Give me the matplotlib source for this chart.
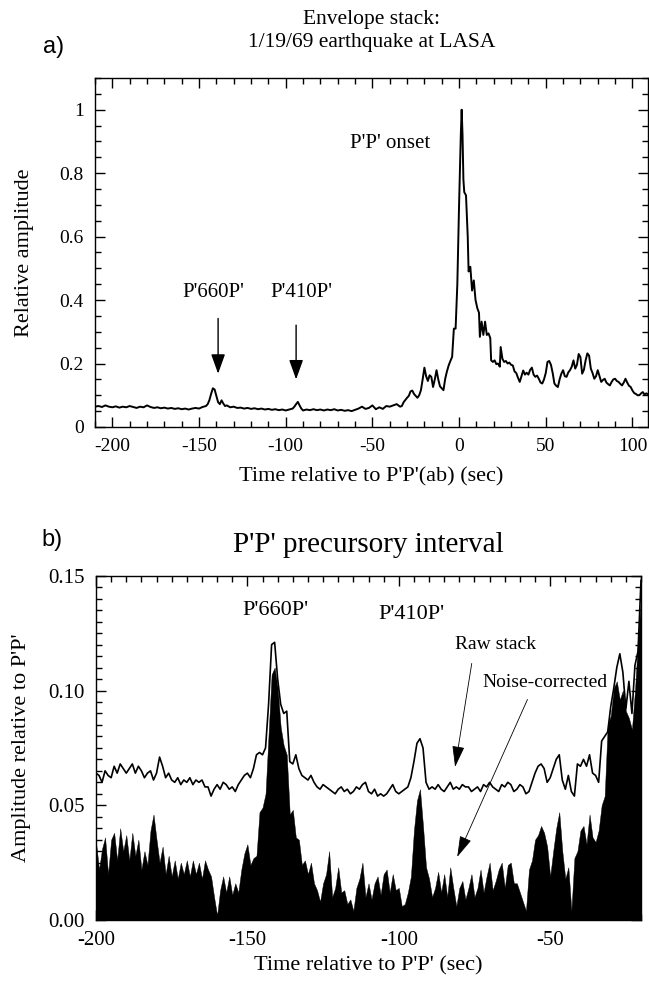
import numpy as np
import matplotlib
matplotlib.use("Agg")
import matplotlib.pyplot as plt
from matplotlib.ticker import MultipleLocator, FixedLocator, FixedFormatter

plt.rcParams["font.family"] = ["Liberation Serif", "DejaVu Serif"]
plt.rcParams["axes.unicode_minus"] = False

# --- a) envelope stack, time (s) and relative amplitude
t_env = [-210, -208, -206, -204, -202, -200, -198, -196, -194, -192, -190, -188, -186, -184,
         -182, -180, -178, -176, -174, -172, -170, -168, -166, -164, -162, -160, -158, -156,
         -154, -152, -150, -148, -146, -145, -144, -143, -142, -141, -140, -139, -138, -137,
         -136, -135, -134, -132, -130, -128, -126, -124, -122, -120, -118, -116, -114, -112,
         -110, -108, -106, -104, -102, -100, -98, -96, -95, -94, -93, -92, -91, -90, -88, -86,
         -84, -82, -80, -78, -76, -74, -72, -70, -68, -66, -64, -62, -60, -58, -56, -54, -52,
         -50, -48, -46, -44, -42, -40, -38, -36, -34, -33, -32, -31, -30, -29, -28, -27, -26,
         -25, -24, -23, -22, -21, -20, -19, -18, -17, -16, -15, -14, -13, -12, -11, -10, -9,
         -8, -7, -6, -5, -4, -3, -2, -1, 0, 1, 1.5, 2, 2.5, 3, 4, 5, 5.5, 6.5, 7.5, 8.5, 9.5,
         10.5, 11.5, 12, 13, 14, 15, 16, 17, 18, 18.5, 19.5, 20.5, 21.5, 22.5, 23.5, 24, 25, 26,
         27, 28, 29, 30, 31, 32, 33, 34, 35, 36, 37, 38, 39, 40, 41, 42, 43, 44, 45, 46, 47, 48,
         49, 50, 51, 52, 53, 54, 55, 56, 57, 58, 59, 60, 61, 62, 63, 64, 65, 66, 67, 68, 69, 70,
         71, 72, 73, 74, 75, 76, 77, 78, 79, 80, 81, 82, 83, 84, 85, 86, 87, 88, 89, 90, 91, 92,
         93, 94, 95, 96, 97, 98, 99, 100, 101, 102, 103, 104, 105, 106, 107, 108, 109]
a_env = [0.064, 0.066, 0.063, 0.068, 0.064, 0.062, 0.065, 0.061, 0.064, 0.062, 0.066, 0.063, 0.060, 0.064,
         0.062, 0.068, 0.063, 0.060, 0.062, 0.059, 0.061, 0.058, 0.060, 0.057, 0.059, 0.056, 0.058, 0.055,
         0.058, 0.060, 0.058, 0.063, 0.066, 0.072, 0.085, 0.105, 0.122, 0.118, 0.098, 0.078, 0.072, 0.084,
         0.074, 0.066, 0.068, 0.062, 0.064, 0.060, 0.061, 0.058, 0.060, 0.057, 0.059, 0.056, 0.058, 0.055,
         0.057, 0.054, 0.056, 0.053, 0.055, 0.052, 0.055, 0.058, 0.064, 0.072, 0.079, 0.068, 0.058, 0.052, 0.055, 0.053,
         0.056, 0.053, 0.055, 0.052, 0.055, 0.053, 0.056, 0.052, 0.054, 0.051, 0.053, 0.050, 0.054, 0.058, 0.064, 0.057, 0.060,
         0.068, 0.056, 0.062, 0.057, 0.066, 0.064, 0.068, 0.072, 0.064, 0.066, 0.078, 0.085, 0.092, 0.098, 0.112, 0.115, 0.104,
         0.098, 0.092, 0.100, 0.116, 0.150, 0.187, 0.160, 0.145, 0.163, 0.158, 0.126, 0.150, 0.179, 0.150, 0.128, 0.122, 0.116,
         0.152, 0.175, 0.194, 0.208, 0.221, 0.310, 0.310, 0.450, 0.700, 0.920, 1.000, 0.920, 0.780, 0.740, 0.730, 0.600, 0.490, 0.505, 0.430, 0.462, 0.400,
         0.375, 0.360, 0.284, 0.332, 0.290, 0.332, 0.290, 0.295, 0.280, 0.210, 0.205, 0.210, 0.198, 0.200, 0.190, 0.252, 0.215, 0.205,
         0.208, 0.200, 0.203, 0.196, 0.194, 0.175, 0.170, 0.155, 0.142, 0.160, 0.178, 0.165, 0.171, 0.165, 0.180, 0.187, 0.165, 0.158, 0.162, 0.152, 0.140, 0.137,
         0.150, 0.170, 0.205, 0.208, 0.196, 0.170, 0.137, 0.130, 0.126, 0.150, 0.168, 0.179, 0.160, 0.158, 0.172, 0.179, 0.190, 0.210, 0.184, 0.196, 0.230, 0.220,
         0.168, 0.180, 0.210, 0.232, 0.225, 0.184, 0.170, 0.152, 0.160, 0.179, 0.160, 0.142, 0.148, 0.152, 0.140, 0.135, 0.131, 0.142, 0.150, 0.152, 0.145, 0.142,
         0.136, 0.131, 0.140, 0.152, 0.140, 0.130, 0.126, 0.115, 0.107, 0.104, 0.100, 0.100, 0.106, 0.110, 0.102, 0.106, 0.103]

# --- b) precursory interval, 1 s samples from -200 to -20
t_pre = list(range(-200, -19))
raw_stack = [0.064, 0.063, 0.060, 0.065, 0.063, 0.062, 0.067, 0.064, 0.068, 0.066,
             0.064, 0.066, 0.068, 0.064, 0.067, 0.065, 0.062, 0.064, 0.065, 0.061,
             0.064, 0.071, 0.067, 0.062, 0.064, 0.061, 0.060, 0.062, 0.059, 0.061,
             0.060, 0.062, 0.059, 0.061, 0.060, 0.061, 0.058, 0.058, 0.054, 0.057,
             0.059, 0.057, 0.060, 0.059, 0.057, 0.058, 0.056, 0.059, 0.061, 0.063,
             0.064, 0.062, 0.066, 0.072, 0.073, 0.072, 0.075, 0.094, 0.120, 0.121,
             0.105, 0.094, 0.090, 0.091, 0.069, 0.068, 0.072, 0.066, 0.063, 0.062,
             0.061, 0.063, 0.060, 0.058, 0.057, 0.059, 0.058, 0.057, 0.056, 0.055,
             0.057, 0.058, 0.056, 0.057, 0.055, 0.056, 0.058, 0.057, 0.059, 0.060,
             0.056, 0.055, 0.057, 0.054, 0.055, 0.054, 0.055, 0.057, 0.059, 0.056,
             0.055, 0.056, 0.057, 0.058, 0.062, 0.069, 0.077, 0.079, 0.075, 0.060,
             0.057, 0.058, 0.057, 0.059, 0.057, 0.056, 0.058, 0.060, 0.057, 0.058,
             0.057, 0.059, 0.058, 0.058, 0.056, 0.057, 0.058, 0.056, 0.059, 0.058,
             0.060, 0.058, 0.057, 0.056, 0.059, 0.058, 0.060, 0.059, 0.056, 0.057,
             0.059, 0.058, 0.055, 0.056, 0.060, 0.064, 0.067, 0.068, 0.066, 0.060,
             0.062, 0.066, 0.070, 0.072, 0.061, 0.057, 0.063, 0.056, 0.054, 0.068,
             0.067, 0.070, 0.067, 0.072, 0.064, 0.063, 0.060, 0.078, 0.080, 0.082,
             0.093, 0.101, 0.110, 0.116, 0.108, 0.092, 0.104, 0.090, 0.111, 0.117,
             0.148]
noise_corr = [0.034, 0.022, 0.031, 0.036, 0.020, 0.035, 0.038, 0.026, 0.040, 0.030,
              0.037, 0.026, 0.038, 0.028, 0.035, 0.022, 0.030, 0.024, 0.039, 0.046,
              0.035, 0.025, 0.032, 0.020, 0.028, 0.019, 0.026, 0.018, 0.025, 0.020,
              0.026, 0.019, 0.026, 0.020, 0.025, 0.018, 0.026, 0.022, 0.019, 0.010,
              0.002, 0.013, 0.019, 0.012, 0.019, 0.011, 0.016, 0.012, 0.022, 0.029,
              0.033, 0.024, 0.027, 0.028, 0.047, 0.049, 0.055, 0.081, 0.107, 0.110,
              0.101, 0.084, 0.076, 0.072, 0.046, 0.048, 0.036, 0.035, 0.024, 0.026,
              0.020, 0.025, 0.016, 0.013, 0.008, 0.016, 0.020, 0.030, 0.010, 0.014,
              0.023, 0.012, 0.013, 0.007, 0.009, 0.004, 0.014, 0.018, 0.025, 0.010,
              0.016, 0.009, 0.016, 0.019, 0.011, 0.020, 0.022, 0.012, 0.020, 0.013,
              0.014, 0.006, 0.007, 0.012, 0.019, 0.039, 0.052, 0.057, 0.041, 0.023,
              0.018, 0.010, 0.014, 0.021, 0.012, 0.020, 0.010, 0.023, 0.014, 0.006,
              0.014, 0.017, 0.009, 0.014, 0.020, 0.010, 0.014, 0.022, 0.012, 0.019,
              0.025, 0.013, 0.017, 0.022, 0.025, 0.014, 0.024, 0.025, 0.016, 0.016,
              0.012, 0.008, 0.004, 0.022, 0.026, 0.035, 0.037, 0.041, 0.038, 0.032,
              0.019, 0.030, 0.040, 0.047, 0.030, 0.018, 0.023, 0.004, 0.027, 0.030,
              0.039, 0.041, 0.033, 0.046, 0.036, 0.034, 0.039, 0.050, 0.054, 0.085,
              0.089, 0.101, 0.104, 0.096, 0.100, 0.091, 0.088, 0.083, 0.100, 0.122,
              0.140]


def style_axes(ax, size):
    ax.tick_params(which="both", direction="in", top=True, right=True, width=1.0,
                   labelsize=size, pad=8)
    ax.tick_params(which="major", length=7)
    ax.tick_params(which="minor", length=4)
    for s in ax.spines.values():
        s.set_linewidth(1.0)


fig = plt.figure(figsize=(6.49, 9.82), dpi=100)

# ---------------- panel a
ax1 = fig.add_axes([0.1464, 0.5652, 0.8521, 0.3554])
ax1.plot(t_env, a_env, color="black", lw=1.4)
ax1.set_xlim(-210, 109)
ax1.set_ylim(0, 1.1)
ax1.xaxis.set_major_locator(MultipleLocator(50))
ax1.xaxis.set_minor_locator(MultipleLocator(10))
ax1.yaxis.set_major_locator(FixedLocator([0, 0.2, 0.4, 0.6, 0.8, 1.0]))
ax1.yaxis.set_major_formatter(FixedFormatter(["0", "0.2", "0.4", "0.6", "0.8", "1"]))
ax1.yaxis.set_minor_locator(MultipleLocator(0.05))
style_axes(ax1, 14)
ax1.set_xlabel("Time relative to P'P'(ab) (sec)", fontsize=16)
ax1.set_ylabel("Relative amplitude", fontsize=16)
ax1.xaxis.set_label_coords(0.5, -0.143)
ax1.xaxis.label.set_va("center")
ax1.yaxis.set_label_coords(-0.127, 0.5)
ax1.yaxis.label.set_va("center")

head1 = dict(arrowstyle="-|>,head_length=1.0,head_width=0.36", mutation_scale=12,
             color="black", lw=1.0, shrinkA=0, shrinkB=0)
ax1.annotate("", xy=(-139, 0.168), xytext=(-139, 0.342), arrowprops=head1)
ax1.annotate("", xy=(-94, 0.15), xytext=(-94, 0.321), arrowprops=head1)
ax1.text(-142, 0.425, "P'660P'", ha="center", va="center", fontsize=15)
ax1.text(-91, 0.425, "P'410P'", ha="center", va="center", fontsize=15)
ax1.text(-40, 0.893, "P'P' onset", ha="center", va="center", fontsize=15)

fig.text(0.5724, 1 - 31 / 982, "Envelope stack:\n1/19/69 earthquake at LASA", ha="center",
         va="center", fontsize=15.5, linespacing=1.3)
fig.text(0.082, 1 - 47 / 982, "a)", ha="center", va="center", fontsize=17,
         family=["Liberation Sans", "DejaVu Sans"])

# ---------------- panel b
ax2 = fig.add_axes([0.1479, 0.0631, 0.8398, 0.3506])
ax2.fill_between(t_pre, 0, noise_corr, color="black", lw=0.3)
ax2.plot(t_pre, raw_stack, color="black", lw=1.2)
ax2.set_xlim(-200, -20)
ax2.set_ylim(0, 0.15)
ax2.xaxis.set_major_locator(MultipleLocator(50))
ax2.xaxis.set_minor_locator(MultipleLocator(5))
ax2.yaxis.set_major_locator(FixedLocator([0, 0.05, 0.10, 0.15]))
ax2.yaxis.set_major_formatter(FixedFormatter(["0.00", "0.05", "0.10", "0.15"]))
ax2.yaxis.set_minor_locator(MultipleLocator(0.005))
style_axes(ax2, 15)
ax2.set_xlabel("Time relative to P'P' (sec)", fontsize=16)
ax2.set_ylabel("Amplitude relative to P'P'", fontsize=16)
ax2.xaxis.set_label_coords(0.5, -0.134)
ax2.xaxis.label.set_va("center")
ax2.yaxis.set_label_coords(-0.136, 0.5)
ax2.yaxis.label.set_va("center")

head2 = dict(arrowstyle="-|>,head_length=1.1,head_width=0.32", mutation_scale=12,
             color="black", lw=0.6, shrinkA=0, shrinkB=0)
ax2.annotate("", xy=(-81.4, 0.0667), xytext=(-75.9, 0.1118), arrowprops=head2)
ax2.annotate("", xy=(-80.7, 0.0275), xytext=(-57.5, 0.0961), arrowprops=head2)
ax2.text(-140.6, 0.135, "P'660P'", ha="center", va="center", fontsize=16)
ax2.text(-95.7, 0.133, "P'410P'", ha="center", va="center", fontsize=16)
ax2.text(-68.2, 0.1202, "Raw stack", ha="center", va="center", fontsize=14)
ax2.text(-51.8, 0.1034, "Noise-corrected", ha="center", va="center", fontsize=14)

fig.text(0.5670, 1 - 545 / 982, "P'P' precursory interval", ha="center", va="center",
         fontsize=21)
fig.text(0.080, 1 - 540 / 982, "b)", ha="center", va="center", fontsize=17,
         family=["Liberation Sans", "DejaVu Sans"])

fig.savefig("out.png", dpi=100)
